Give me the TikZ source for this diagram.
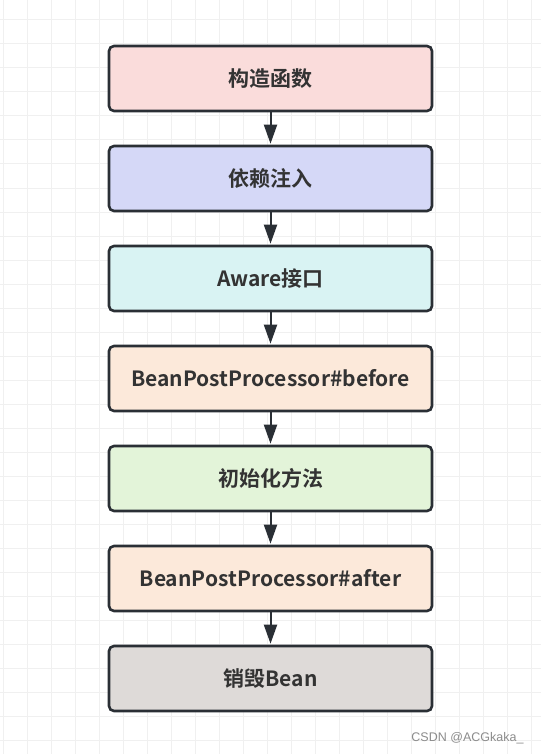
\documentclass[tikz,border=0pt]{standalone}
\usepackage{fontspec}
\setmainfont{Noto Sans CJK SC}
\newfontfamily\boxfont{Noto Sans CJK SC}[BoldFont={* Bold}]
\newfontfamily\wmfont{Liberation Sans}
\usetikzlibrary{arrows.meta}
\definecolor{gridc}{HTML}{F0F0F0}
\definecolor{edge}{HTML}{2A2F35}
\definecolor{txt}{HTML}{333333}
\definecolor{c1}{HTML}{FADCDB}
\definecolor{c2}{HTML}{D5D8F7}
\definecolor{c3}{HTML}{D9F3F3}
\definecolor{c4}{HTML}{FCE9DA}
\definecolor{c5}{HTML}{E3F4D9}
\definecolor{c7}{HTML}{DEDAD8}
\tikzset{
  stepbox/.style={draw=edge, line width=2.6pt, rounded corners=5pt,
    minimum width=323pt, minimum height=65pt, inner sep=0pt,
    font=\boxfont\bfseries\fontsize{21}{24}\selectfont, text=txt},
  flow/.style={draw=edge, line width=2pt, -{Triangle[length=19pt,width=13pt]}, shorten >=1pt}
}
\begin{document}
\begin{tikzpicture}[x=1pt,y=-1pt]
\fill[white] (0,0) rectangle (541,754);
\useasboundingbox (0,0) rectangle (541,754);
\foreach \i in {0,...,22} {
  \draw[gridc, line width=1pt] (3+24*\i,0) -- (3+24*\i,754);
}
\foreach \i in {0,...,31} {
  \draw[gridc, line width=1pt] (0,20+24*\i) -- (541,20+24*\i);
}
\node[stepbox, fill=c1] (a) at (270.5,78.5) {构造函数};
\node[stepbox, fill=c2] (b) at (270.5,178.5) {依赖注入};
\node[stepbox, fill=c3] (c) at (270.5,278.5) {Aware接口};
\node[stepbox, fill=c4] (d) at (270.5,378.5) {BeanPostProcessor\#before};
\node[stepbox, fill=c5] (e) at (270.5,478.5) {初始化方法};
\node[stepbox, fill=c4] (f) at (270.5,578.5) {BeanPostProcessor\#after};
\node[stepbox, fill=c7] (g) at (270.5,678.5) {销毁Bean};
\foreach \u/\v in {a/b,b/c,c/d,d/e,e/f,f/g} {
  \draw[flow] (\u.south) -- (\v.north);
}
\node[font=\wmfont\fontsize{12.5}{14}\selectfont, text=black!45, anchor=east] (wm) at (527,738) {CSDN @ACGkaka\_};
\end{tikzpicture}
\end{document}
